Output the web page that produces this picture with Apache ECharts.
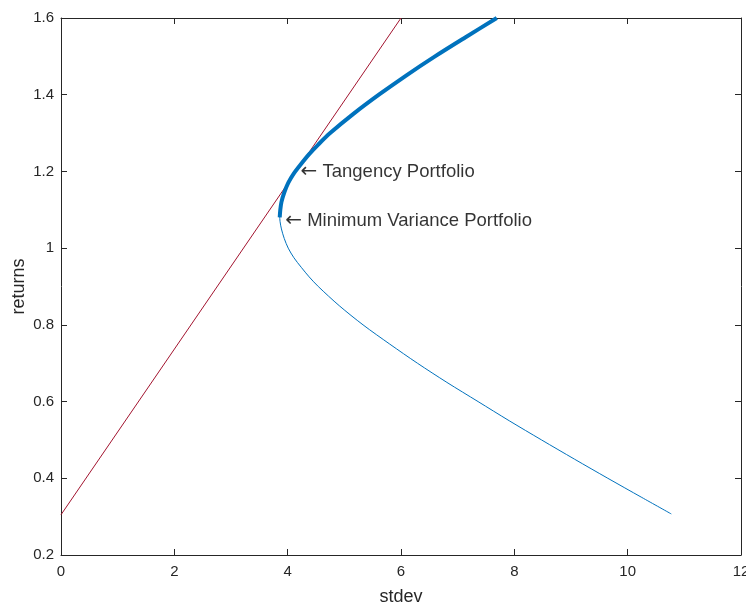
<!DOCTYPE html>
<html>
<head>
<meta charset="utf-8">
<script src="https://cdn.jsdelivr.net/npm/echarts@6/dist/echarts.min.js"></script>
<style>
  html, body { margin: 0; padding: 0; background: #fff; }
  #chart { width: 746px; height: 605px; }
</style>
</head>
<body>
<div id="chart"></div>
<script>
// efficient frontier: [stdev, returns]
var frontier = [
  [10.77, 0.307], [10.25, 0.35], [9.65, 0.40], [9.06, 0.45], [8.48, 0.50],
  [7.91, 0.55], [7.36, 0.60], [6.81, 0.65], [6.29, 0.70], [5.80, 0.75],
  [5.33, 0.80], [4.91, 0.85], [4.54, 0.90], [4.38, 0.925], [4.24, 0.95],
  [4.11, 0.975], [4.01, 1.00], [3.94, 1.025], [3.89, 1.05], [3.865, 1.07],
  [3.86, 1.085], [3.87, 1.10], [3.89, 1.12], [3.94, 1.145], [4.01, 1.17],
  [4.11, 1.195], [4.24, 1.22], [4.38, 1.245], [4.54, 1.27], [4.75, 1.30],
  [5.16, 1.35], [5.61, 1.40], [6.09, 1.45], [6.60, 1.50], [7.14, 1.55],
  [7.69, 1.60]
]
// upper (efficient) part, drawn thick
var efficient = [
  [3.86, 1.08], [3.87, 1.10], [3.89, 1.12], [3.94, 1.145], [4.01, 1.17],
  [4.11, 1.195], [4.24, 1.22], [4.38, 1.245], [4.54, 1.27], [4.75, 1.30],
  [5.16, 1.35], [5.61, 1.40], [6.09, 1.45], [6.60, 1.50], [7.14, 1.55],
  [7.69, 1.60]
]
// capital market line
var cml = [[0, 0.305], [6.0, 1.6]]
var tangency = [4.14, 1.2]
var minVariance = [3.87, 1.072]

var xTicks = { min: 0, max: 12, interval: 2 }
var yTicks = { min: 0.2, max: 1.6, interval: 0.2 }

var chart = echarts.init(document.getElementById('chart'))
var font = 'Liberation Sans, Arial, Helvetica, sans-serif'
var axisCol = '#262626'

function baseAxis(extra) {
  return Object.assign({
    type: 'value',
    axisLine: { show: true, onZero: false, lineStyle: { color: axisCol, width: 1 } },
    axisTick: { show: true, inside: true, length: 6, lineStyle: { color: axisCol } },
    splitLine: { show: false },
    axisLabel: { show: false }
  }, extra)
}

chart.setOption({
  animation: false,
  textStyle: { fontFamily: font },
  grid: { left: 61, right: 5, top: 18, bottom: 50, containLabel: false, outerBoundsMode: 'none' },
  xAxis: [
    baseAxis(Object.assign({
      position: 'bottom',
      name: 'stdev',
      nameLocation: 'middle',
      nameGap: 33,
      nameMoveOverlap: false,
      nameTextStyle: { fontSize: 18, color: axisCol, fontFamily: font },
      axisLabel: { show: true, fontSize: 15, color: axisCol, margin: 9, fontFamily: font }
    }, xTicks)),
    baseAxis(Object.assign({ position: 'top' }, xTicks))
  ],
  yAxis: [
    baseAxis(Object.assign({
      position: 'left',
      name: 'returns',
      nameLocation: 'middle',
      nameGap: 33,
      nameMoveOverlap: false,
      nameTextStyle: { fontSize: 18, color: axisCol, fontFamily: font },
      axisLabel: { show: true, fontSize: 15, color: axisCol, margin: 7, fontFamily: font }
    }, yTicks)),
    baseAxis(Object.assign({ position: 'right' }, yTicks))
  ],
  series: [
    {
      type: 'line',
      data: cml,
      symbol: 'none',
      lineStyle: { color: '#A2142F', width: 1 },
      clip: true
    },
    {
      type: 'line',
      data: frontier,
      symbol: 'none',
      smooth: 0.3,
      lineStyle: { color: '#0072BD', width: 1 }
    },
    {
      type: 'line',
      data: efficient,
      symbol: 'none',
      smooth: 0.3,
      lineStyle: { color: '#0072BD', width: 4 }
    },
    {
      type: 'scatter',
      symbolSize: 0,
      data: [
        { value: tangency, name: 'Tangency Portfolio' },
        { value: minVariance, name: 'Minimum Variance Portfolio' }
      ],
      label: {
        show: true,
        position: 'right',
        distance: 5,
        formatter: '{a|\u2190} {b}',
        fontSize: 18.5,
        color: '#000',
        fontFamily: font,
        rich: {
          a: { fontFamily: 'DejaVu Sans', fontSize: 20, color: '#000' }
        }
      }
    }
  ]
})
</script>
</body>
</html>
